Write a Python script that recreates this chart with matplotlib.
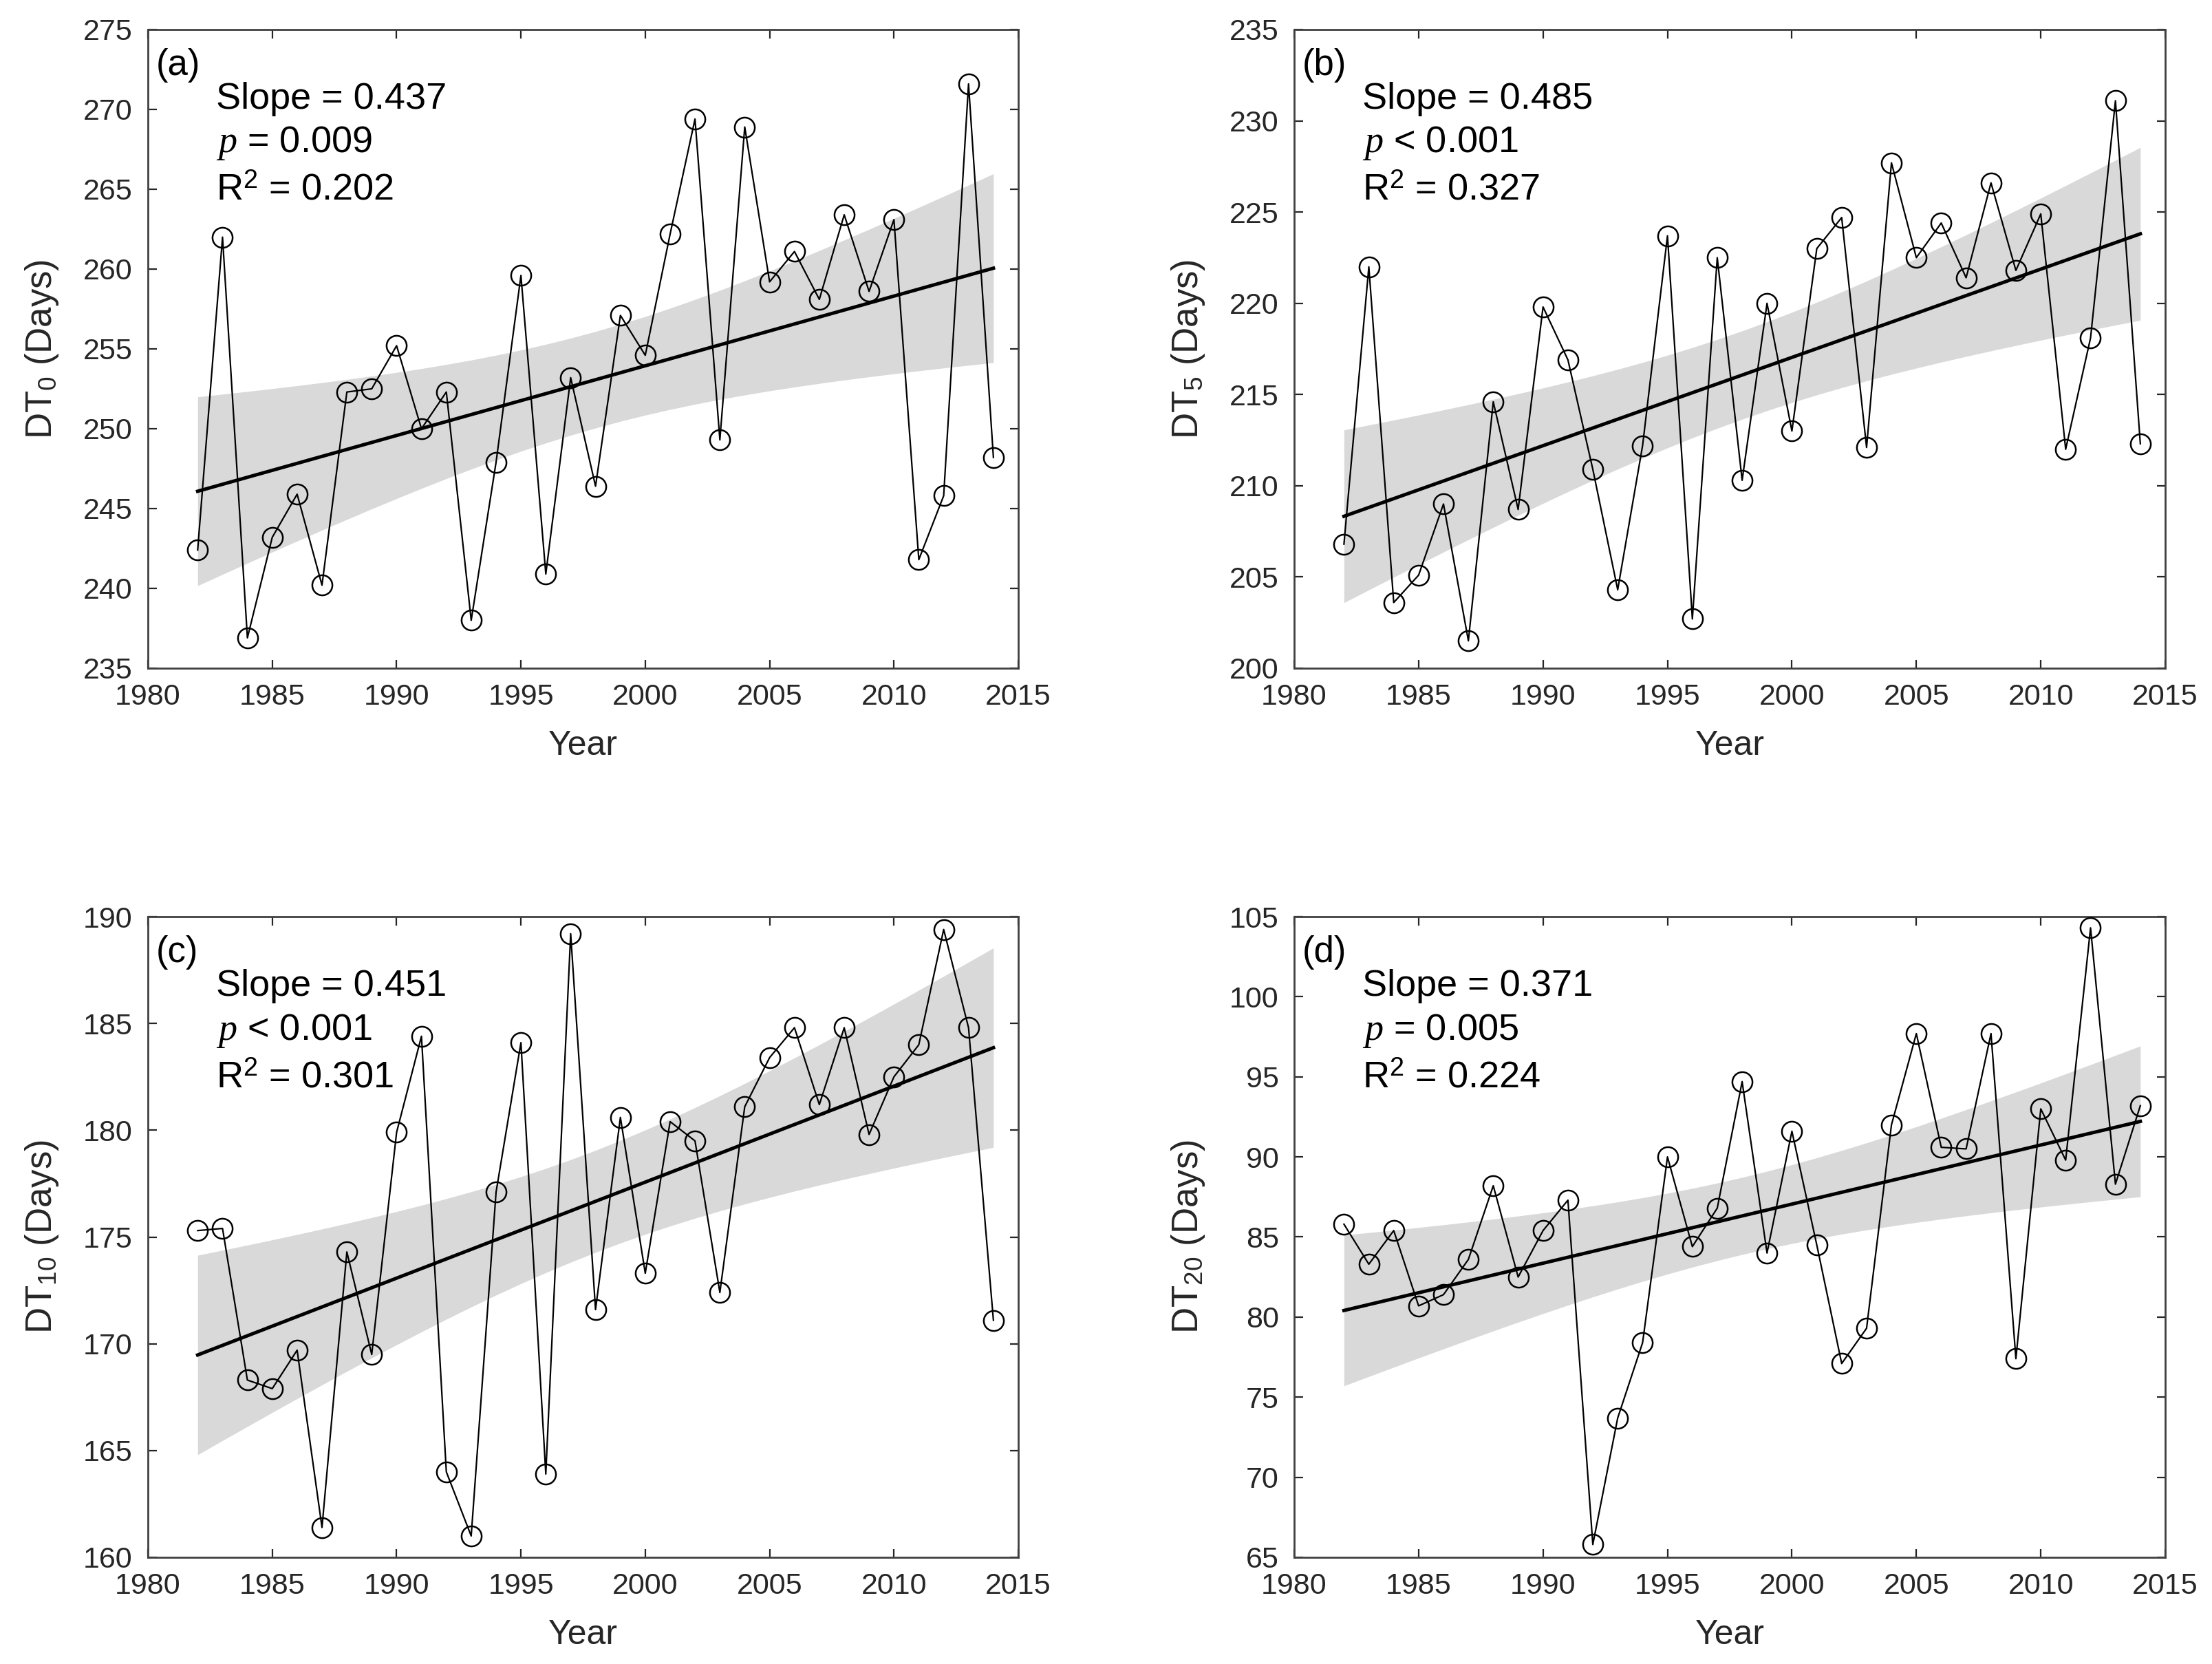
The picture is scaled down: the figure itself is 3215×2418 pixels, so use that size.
import numpy as np
import matplotlib
matplotlib.use("Agg")
import matplotlib.pyplot as plt

plt.rcParams['font.family'] = 'Liberation Sans'
plt.rcParams['mathtext.fontset'] = 'custom'
plt.rcParams['mathtext.rm'] = 'Liberation Sans'
plt.rcParams['mathtext.it'] = 'Liberation Serif:italic'

years = np.arange(1982, 2015)

dt0 = [242.4, 262.0, 236.9, 243.2, 245.9, 240.2, 252.3, 252.5, 255.2, 250.0,
       252.3, 238.0, 247.9, 259.6, 240.9, 253.2, 246.4, 257.1, 254.6, 262.2,
       269.4, 249.3, 268.9, 259.2, 261.1, 258.1, 263.4, 258.6, 263.1, 241.8,
       245.8, 271.6, 248.2]
dt5 = [206.8, 222.0, 203.6, 205.1, 209.0, 201.5, 214.6, 208.7, 219.8, 216.9,
       210.9, 204.3, 212.2, 223.7, 202.7, 222.5, 210.3, 220.0, 213.0, 223.0,
       224.7, 212.1, 227.7, 222.5, 224.4, 221.4, 226.6, 221.8, 224.9, 212.0,
       218.1, 231.1, 212.3]
dt10 = [175.3, 175.4, 168.3, 167.9, 169.7, 161.4, 174.3, 169.5, 179.9, 184.4,
        164.0, 161.0, 177.1, 184.1, 163.9, 189.2, 171.6, 180.6, 173.3, 180.4,
        179.5, 172.4, 181.1, 183.4, 184.8, 181.2, 184.8, 179.8, 182.5, 184.0,
        189.4, 184.8, 171.1]
dt20 = [85.8, 83.3, 85.4, 80.7, 81.4, 83.6, 88.2, 82.5, 85.4, 87.3,
        65.8, 73.7, 78.4, 90.0, 84.4, 86.8, 94.7, 84.0, 91.6, 84.5,
        77.1, 79.3, 92.0, 97.7, 90.6, 90.5, 97.7, 77.4, 93.0, 89.8,
        104.3, 88.3, 93.2]

series = [dt0, dt5, dt10, dt20]
panel_tags = ['(a)', '(b)', '(c)', '(d)']
ylabels = ['DT$_{0}$ (Days)', 'DT$_{5}$ (Days)', 'DT$_{10}$ (Days)', 'DT$_{20}$ (Days)']
ylims = [(235, 275), (200, 235), (160, 190), (65, 105)]
slopes = ['0.437', '0.485', '0.451', '0.371']
pvals = ['= 0.009', '< 0.001', '< 0.001', '= 0.005']
r2s = ['0.202', '0.327', '0.301', '0.224']

T_CRIT = 2.0395  # t(0.975, df=31)


def trend_band(x, y):
    x = np.asarray(x, float)
    y = np.asarray(y, float)
    b, a = np.polyfit(x, y, 1)
    fit = a + b * x
    n = len(x)
    s = np.sqrt(np.sum((y - fit) ** 2) / (n - 2))
    sxx = np.sum((x - x.mean()) ** 2)
    half = T_CRIT * s * np.sqrt(1.0 / n + (x - x.mean()) ** 2 / sxx)
    return fit, fit - half, fit + half


W, H = 3215, 2418
fig = plt.figure(figsize=(W / 200, H / 200), dpi=200)

# axes boxes in pixels: left, top, right, bottom
boxes = [(215, 43, 1480, 971), (1881, 43, 3147, 971),
         (215, 1332, 1480, 2263), (1881, 1332, 3147, 2263)]

axcol = '#262626'
for i, y in enumerate(series):
    l, t, r, b = boxes[i]
    ax = fig.add_axes([l / W, 1 - b / H, (r - l) / W, (b - t) / H])
    fit, lo, hi = trend_band(years, y)
    ax.fill_between(years, lo, hi, color='#d9d9d9', lw=0, zorder=1)
    ax.plot(years, y, '-', color='black', lw=0.8, zorder=2)
    ax.plot(years, y, 'o', mfc='none', mec='black', ms=10.5, mew=0.9, zorder=3)
    ax.plot(years, fit, '-', color='black', lw=1.8, zorder=4)

    ax.set_xlim(1980, 2015)
    ax.set_ylim(*ylims[i])
    ax.set_xticks(np.arange(1980, 2016, 5))
    ax.set_yticks(np.arange(ylims[i][0], ylims[i][1] + 1, 5))
    ax.tick_params(direction='in', top=True, right=True, length=4.5, width=0.8,
                   labelsize=15.5, colors=axcol, pad=8)
    for sp in ax.spines.values():
        sp.set_color('#404040')
        sp.set_linewidth(1.0)
    ax.set_xlabel('Year', fontsize=18, color=axcol, labelpad=10)
    ax.set_ylabel(ylabels[i], fontsize=19, color=axcol, labelpad=12)

    ax.text(0.009, 0.944, panel_tags[i], transform=ax.transAxes, fontsize=19,
            va='center', ha='left')
    ax.text(0.078, 0.891, 'Slope = ' + slopes[i], transform=ax.transAxes,
            fontsize=19.5, va='center', ha='left')
    ax.text(0.078, 0.822, '$p$ ' + pvals[i], transform=ax.transAxes,
            fontsize=19.5, va='center', ha='left')
    ax.text(0.078, 0.749, 'R$^2$ = ' + r2s[i], transform=ax.transAxes,
            fontsize=19.5, va='center', ha='left')

fig.savefig('out.png', dpi=200)
